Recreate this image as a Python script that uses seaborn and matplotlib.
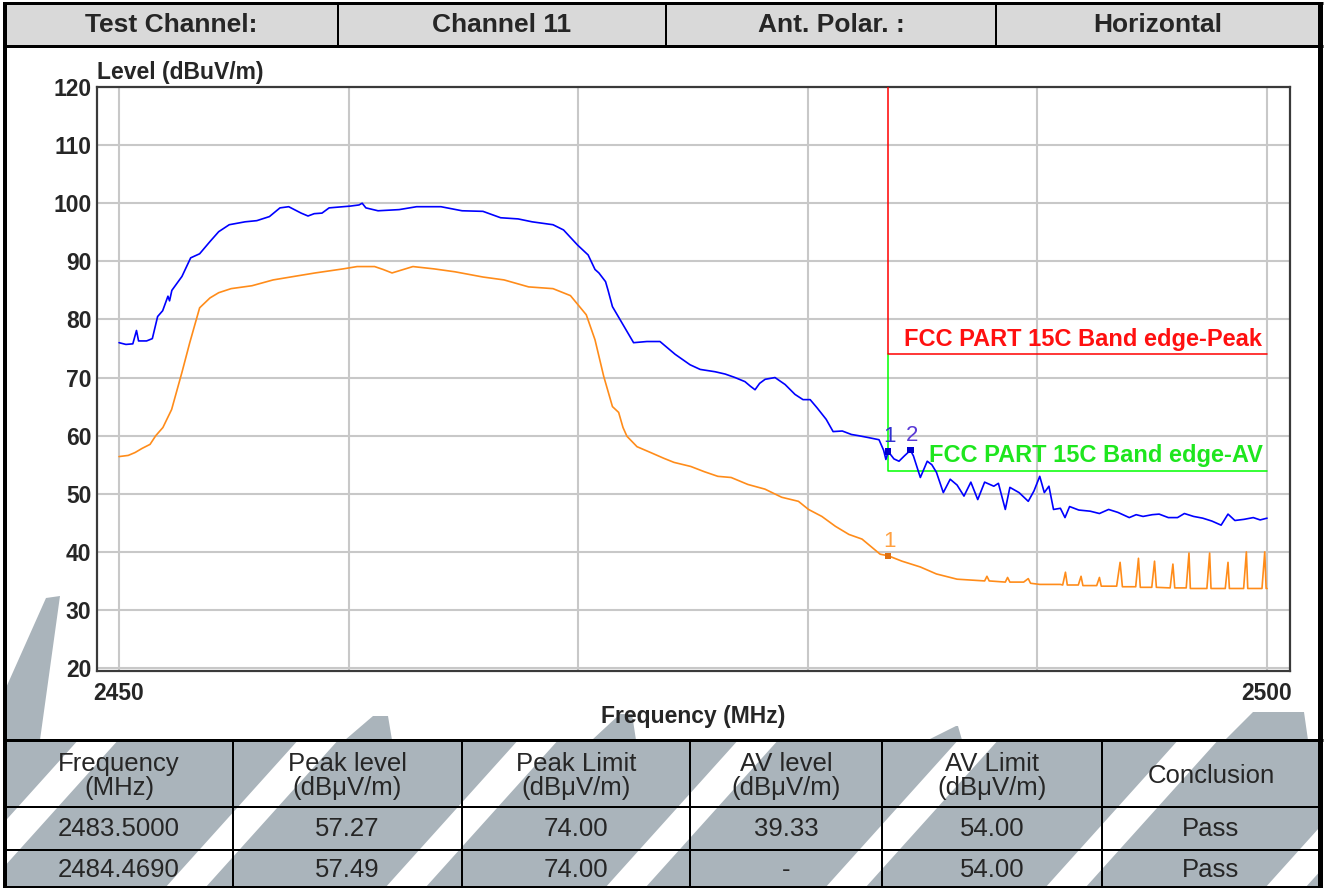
import numpy as np
import pandas as pd
import matplotlib
matplotlib.use("Agg")
import matplotlib.pyplot as plt
from matplotlib.patches import Polygon, Rectangle
import seaborn as sns

# ---------------- data ----------------
freq_pk = [2450.0, 2450.3, 2450.6, 2450.76, 2450.85, 2451.2, 2451.45, 2451.68, 2451.9, 2452.13,
           2452.2, 2452.3, 2452.74, 2453.12, 2453.51, 2453.96, 2454.34, 2454.8, 2455.49, 2456.0,
           2456.55, 2457.01, 2457.39, 2457.93, 2458.23, 2458.5, 2458.84, 2459.15, 2460.06, 2460.45,
           2460.59, 2460.75, 2461.28, 2462.2, 2462.96, 2464.02, 2464.94, 2465.85, 2466.62, 2467.38,
           2467.99, 2468.9, 2469.36, 2469.97, 2470.43, 2470.73, 2470.9, 2471.19, 2471.3, 2471.49,
           2471.95, 2472.41, 2472.99, 2473.56, 2474.22, 2474.87, 2475.31, 2475.96, 2476.4, 2476.83,
           2477.26, 2477.5, 2477.7, 2477.9, 2478.14, 2478.57, 2479.01, 2479.44, 2479.79, 2480.1,
           2480.4, 2480.8, 2481.1, 2481.5, 2481.9, 2482.2, 2482.6, 2483.1, 2483.3, 2483.4,
           2483.5, 2483.75, 2483.97, 2484.2, 2484.469, 2484.6, 2484.9, 2485.2, 2485.4, 2485.6,
           2485.9, 2486.2, 2486.5, 2486.8, 2487.1, 2487.4, 2487.7, 2488.1, 2488.3, 2488.6,
           2488.8, 2489.2, 2489.6, 2489.85, 2490.1, 2490.3, 2490.5, 2490.7, 2491.0, 2491.2,
           2491.4, 2491.8, 2492.3, 2492.7, 2493.1, 2493.5, 2494.0, 2494.3, 2494.6, 2495.0,
           2495.3, 2495.7, 2496.1, 2496.4, 2496.8, 2497.2, 2497.6, 2498.0, 2498.3, 2498.6,
           2499.0, 2499.4, 2499.7, 2500.0]
level_pk = [76.0, 75.7, 75.8, 78.1, 76.3, 76.3, 76.7, 80.5, 81.5, 84.0,
            83.2, 85.0, 87.4, 90.6, 91.3, 93.4, 95.1, 96.3, 96.8, 97.0,
            97.7, 99.2, 99.4, 98.3, 97.8, 98.2, 98.3, 99.2, 99.5, 99.7,
            100.0, 99.2, 98.7, 98.9, 99.4, 99.4, 98.7, 98.6, 97.5, 97.3,
            96.8, 96.3, 95.4, 92.8, 91.1, 88.6, 88.0, 86.5, 85.0, 82.2,
            79.1, 76.0, 76.2, 76.2, 74.0, 72.2, 71.4, 71.0, 70.6, 70.0,
            69.3, 68.5, 67.9, 69.0, 69.7, 70.0, 68.8, 67.1, 66.2, 66.2,
            64.8, 62.8, 60.7, 60.8, 60.2, 60.0, 59.7, 59.3, 57.5, 55.9,
            57.27, 56.0, 55.6, 56.5, 57.49, 56.5, 52.8, 55.6, 55.0, 53.7,
            50.2, 52.5, 51.5, 49.6, 52.0, 49.0, 52.0, 51.3, 51.8, 47.3,
            51.1, 50.2, 48.7, 50.5, 53.0, 50.2, 51.3, 47.3, 47.5, 45.9,
            47.8, 47.2, 47.0, 46.6, 47.3, 46.8, 45.9, 46.4, 46.1, 46.4,
            46.5, 45.9, 45.9, 46.6, 46.1, 45.8, 45.3, 44.6, 46.5, 45.4,
            45.6, 45.9, 45.5, 45.8]

freq_av = [2450.0, 2450.4, 2450.7, 2451.0, 2451.35, 2451.6, 2451.91, 2452.29, 2452.74, 2453.08,
           2453.51, 2453.96, 2454.34, 2454.88, 2455.79, 2456.71, 2457.62, 2458.54, 2459.76, 2460.37,
           2461.13, 2461.5, 2461.89, 2462.8, 2463.72, 2464.63, 2465.85, 2466.77, 2467.84, 2468.9,
           2469.66, 2470.35, 2470.73, 2471.11, 2471.49, 2471.76, 2471.95, 2472.12, 2472.56, 2473.15,
           2473.73, 2474.17, 2474.9, 2475.49, 2476.08, 2476.66, 2477.39, 2478.13, 2478.86, 2479.59,
           2480.03, 2480.61, 2481.2, 2481.79, 2482.36, 2483.15, 2483.5, 2484.1, 2484.9, 2485.6,
           2486.5, 2487.7, 2487.8, 2487.9, 2488.6, 2488.7, 2488.8, 2489.4, 2489.6, 2489.7,
           2490.1, 2491.0, 2491.1, 2491.22, 2491.3, 2491.78, 2491.9, 2491.98, 2492.58, 2492.7,
           2492.78, 2493.45, 2493.6, 2493.7, 2494.28, 2494.4, 2494.48, 2494.98, 2495.1, 2495.18,
           2495.78, 2495.9, 2495.98, 2496.48, 2496.6, 2496.66, 2497.38, 2497.5, 2497.56, 2498.18,
           2498.3, 2498.36, 2498.98, 2499.1, 2499.16, 2499.78, 2499.9, 2499.96, 2500.0]
level_av = [56.4, 56.6, 57.1, 57.8, 58.5, 60.0, 61.4, 64.5, 70.9, 76.0,
            82.0, 83.7, 84.6, 85.3, 85.8, 86.8, 87.4, 88.0, 88.7, 89.1,
            89.1, 88.6, 88.0, 89.1, 88.7, 88.2, 87.3, 86.8, 85.6, 85.3,
            84.1, 80.8, 76.5, 70.2, 65.0, 64.0, 61.4, 59.9, 58.1, 57.1,
            56.1, 55.4, 54.7, 53.8, 53.0, 52.8, 51.6, 50.8, 49.4, 48.7,
            47.3, 46.1, 44.4, 43.0, 42.2, 39.6, 39.33, 38.4, 37.4, 36.2,
            35.3, 35.0, 35.8, 35.0, 34.8, 35.6, 34.8, 34.8, 35.4, 34.6,
            34.4, 34.4, 34.3, 36.5, 34.3, 34.3, 35.8, 34.2, 34.2, 35.6,
            34.1, 34.1, 38.2, 34.0, 34.0, 38.9, 33.9, 33.9, 38.4, 33.9,
            33.8, 37.9, 33.8, 33.8, 39.8, 33.7, 33.7, 39.8, 33.7, 33.7,
            38.2, 33.7, 33.7, 40.0, 33.7, 33.7, 40.0, 33.7, 33.7]

limit_x = [2483.5, 2483.5, 2500.0]
peak_limit_y = [120.0, 74.0, 74.0]
av_limit_y = [74.0, 54.0, 54.0]

mk_pk_x = [2483.5, 2484.469]
mk_pk_y = [57.27, 57.49]
mk_pk_lab = ["1", "2"]
mk_av_x = [2483.5]
mk_av_y = [39.33]
mk_av_lab = ["1"]

yticks = [20, 30, 40, 50, 60, 70, 80, 90, 100, 110, 120]
xgrid = [2450, 2460, 2470, 2480, 2490, 2500]
xlabels = ["2450", "", "", "", "", "2500"]

header_cells = ["Test Channel:", "Channel 11", "Ant. Polar. :", "Horizontal"]
table_head = ["Frequency\n(MHz)", "Peak level\n(dB\u03bcV/m)", "Peak Limit\n(dB\u03bcV/m)",
              "AV level\n(dB\u03bcV/m)", "AV Limit\n(dB\u03bcV/m)", "Conclusion"]
table_rows = [["2483.5000", "57.27", "74.00", "39.33", "54.00", "Pass"],
              ["2484.4690", "57.49", "74.00", "-", "54.00", "Pass"]]

# ---------------- style ----------------
sns.set_style("white")
plt.rcParams["font.family"] = ["Liberation Sans", "DejaVu Sans"]

W, H = 1330, 888
fig = plt.figure(figsize=(W / 100, H / 100), dpi=100)
fig.patch.set_facecolor("white")

bg = fig.add_axes([0, 0, 1, 1], zorder=0)
bg.set_xlim(0, W)
bg.set_ylim(H, 0)
bg.axis("off")

PX = 0.72  # px -> pt
wm = "#aab4bb"
TT = 740      # table top
RH = [807, 850, 887]  # row lines

# ---- watermark (decorative stripes) ----
bg.add_patch(Polygon([(5, TT), (5, 690), (46, 598), (60, 596), (40, TT)],
                     closed=True, fc=wm, ec="none", zorder=0.1))
for (xa, xb, top) in [(345, 392, 716), (592, 636, 714), (928, 962, 726), (1225, 1308, 712)]:
    bg.add_patch(Polygon([(xa, TT), (xb, TT), (xb - 4, top), (xa + 28, top)],
                         closed=True, fc=wm, ec="none", zorder=0.1))
bg.add_patch(Rectangle((5, TT), 1316, 888 - TT, fc=wm, ec="none", zorder=0.1))
slant = 0.9
for xc in [-35, 185, 405, 625, 845, 1065, 1285]:
    w = 20
    pts = [(xc - w, 888), (xc + w, 888),
           (xc + w + slant * (888 - TT), TT), (xc - w + slant * (888 - TT), TT)]
    bg.add_patch(Polygon(pts, closed=True, fc="white", ec="none", zorder=0.15))

# ---- page border / header table ----
bg.add_patch(Rectangle((5, 3), 1315, 43, fc="#d9d9d9", ec="none", zorder=0.5))
lk = dict(color="black", zorder=3, solid_capstyle="butt")
bg.plot([5, 5], [2, 888], lw=4 * PX, **lk)
bg.plot([1320, 1320], [2, 888], lw=5 * PX, **lk)
bg.plot([3, 1323], [3, 3], lw=3 * PX, **lk)
bg.plot([3, 1323], [46, 46], lw=3 * PX, **lk)
for xv in [338, 666, 996]:
    bg.plot([xv, xv], [3, 46], lw=2 * PX, **lk)
hcent = [171, 502, 831, 1158]
for xc, t in zip(hcent, header_cells):
    bg.text(xc, 25, t, ha="center", va="center", fontsize=19, fontweight="bold", zorder=4)

# ---- bottom table ----
bg.plot([3, 1323], [TT, TT], lw=3 * PX, **lk)
for yv in RH:
    bg.plot([3, 1323], [yv, yv], lw=2 * PX, **lk)
col_edges = [5, 233, 462, 690, 882, 1102, 1320]
for xv in col_edges[1:-1]:
    bg.plot([xv, xv], [TT, 888], lw=2 * PX, **lk)
col_c = [(a + b) / 2 for a, b in zip(col_edges[:-1], col_edges[1:])]
for xc, t in zip(col_c, table_head):
    bg.text(xc, 776, t, ha="center", va="center", fontsize=18.5, linespacing=1.0, zorder=4)
for ry, row in zip([829, 870], table_rows):
    for xc, t in zip(col_c, row):
        bg.text(xc, ry, t, ha="center", va="center", fontsize=18.5, zorder=4)

# ---- chart ----
L, R, T, B = 97, 1290, 87, 671
ax = fig.add_axes([L / W, (H - B) / H, (R - L) / W, (B - T) / H], zorder=2)
ax.set_facecolor("white")
ax.set_xlim(2449.04, 2501.0)
ax.set_ylim(19.5, 120)

pk = pd.DataFrame({"Frequency (MHz)": freq_pk, "Level (dBuV/m)": level_pk})
av = pd.DataFrame({"Frequency (MHz)": freq_av, "Level (dBuV/m)": level_av})
lp = pd.DataFrame({"f": limit_x, "y": peak_limit_y})
la = pd.DataFrame({"f": limit_x, "y": av_limit_y})

sns.lineplot(data=la, x="f", y="y", ax=ax, color="#00ff00", lw=1.1, estimator=None, sort=False, zorder=3)
sns.lineplot(data=lp, x="f", y="y", ax=ax, color="#ff0000", lw=1.1, estimator=None, sort=False, zorder=3)
sns.lineplot(data=av, x="Frequency (MHz)", y="Level (dBuV/m)", ax=ax, color="#ff8c1a",
             lw=1.2, estimator=None, sort=False, zorder=4)
sns.lineplot(data=pk, x="Frequency (MHz)", y="Level (dBuV/m)", ax=ax, color="#0000ff",
             lw=1.2, estimator=None, sort=False, zorder=5)

sns.scatterplot(x=mk_pk_x, y=mk_pk_y, ax=ax, marker="s", s=22, color="#0000cc", edgecolor="none", zorder=6)
sns.scatterplot(x=mk_av_x, y=mk_av_y, ax=ax, marker="s", s=22, color="#e07010", edgecolor="none", zorder=6)
pk_cols = ["#3030d0", "#5a3ad6"]
for x, y, t, c in zip(mk_pk_x, mk_pk_y, mk_pk_lab, pk_cols):
    ax.text(x + 0.05, y + 0.8, t, color=c, fontsize=16, ha="center", va="bottom", zorder=7)
for x, y, t in zip(mk_av_x, mk_av_y, mk_av_lab):
    ax.text(x + 0.05, y + 0.6, t, color="#ffa040", fontsize=16, ha="center", va="bottom", zorder=7)

ax.text(2499.8, 74.6, "FCC PART 15C Band edge-Peak", color="#ff1010", fontsize=17,
        fontweight="bold", ha="right", va="bottom", zorder=7)
ax.text(2499.8, 54.6, "FCC PART 15C Band edge-AV", color="#1ee61e", fontsize=17,
        fontweight="bold", ha="right", va="bottom", zorder=7)

ax.set_yticks(yticks)
ax.set_xticks(xgrid)
ax.set_xticklabels(xlabels)
ax.grid(True, color="#c8c8c8", lw=1.5)
ax.set_axisbelow(True)
ax.tick_params(axis="both", length=0, labelsize=16.5)
ax.tick_params(axis="y", pad=4)
ax.tick_params(axis="x", pad=8)
for lab in ax.get_xticklabels() + ax.get_yticklabels():
    lab.set_fontweight("bold")
ax.set_xlabel("")
ax.set_ylabel("")
for s in ax.spines.values():
    s.set_visible(True)
    s.set_color("#3a3a3a")
    s.set_linewidth(2.2 * PX)

bg.text(L, 72, "Level (dBuV/m)", ha="left", va="center", fontsize=16.5, fontweight="bold", zorder=4)
bg.text((L + R) / 2, 716, "Frequency (MHz)", ha="center", va="center", fontsize=16.5,
        fontweight="bold", zorder=4)

fig.savefig("out.png", dpi=100)
